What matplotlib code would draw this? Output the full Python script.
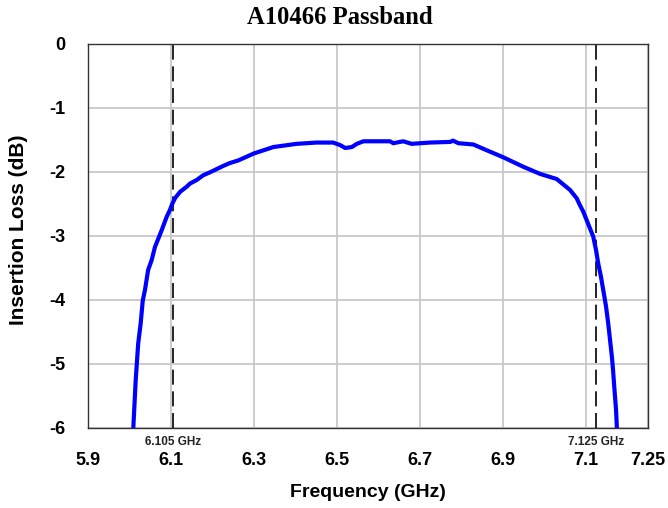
import matplotlib
matplotlib.use("Agg")
import matplotlib.pyplot as plt

freq_ghz = [6.0092, 6.015, 6.021, 6.027, 6.032, 6.0374, 6.045, 6.0535, 6.0615, 6.0696,
            6.0776, 6.0897, 6.0977, 6.103, 6.1097, 6.122, 6.1379, 6.146, 6.162, 6.178,
            6.194, 6.218, 6.226, 6.242, 6.262, 6.3, 6.347, 6.403, 6.451, 6.491,
            6.508, 6.52, 6.536, 6.548, 6.564, 6.628, 6.636, 6.66, 6.68, 6.724,
            6.773, 6.78, 6.793, 6.829, 6.861, 6.901, 6.95, 6.99, 7.03, 7.062,
            7.078, 7.086, 7.094, 7.102, 7.110, 7.118, 7.1247, 7.13, 7.1367, 7.142,
            7.1488, 7.154, 7.1585, 7.163, 7.1657, 7.168, 7.173, 7.175]
loss_db = [-6.0, -5.25, -4.68, -4.365, -4.01, -3.84, -3.53, -3.375, -3.17, -3.04,
           -2.91, -2.70, -2.59, -2.5, -2.41, -2.31, -2.23, -2.18, -2.125, -2.05,
           -2.005, -1.93, -1.905, -1.86, -1.82, -1.71, -1.61, -1.56, -1.54, -1.54,
           -1.58, -1.625, -1.61, -1.56, -1.52, -1.52, -1.55, -1.52, -1.56, -1.54,
           -1.53, -1.51, -1.55, -1.57, -1.66, -1.77, -1.92, -2.03, -2.11, -2.28,
           -2.41, -2.52, -2.62, -2.75, -2.88, -3.01, -3.22, -3.43, -3.64, -3.84,
           -4.10, -4.36, -4.625, -4.89, -5.09, -5.30, -5.72, -6.0]
markers_ghz = [6.105, 7.125]
marker_labels = ["6.105 GHz", "7.125 GHz"]
xticks = [5.9, 6.1, 6.3, 6.5, 6.7, 6.9, 7.1, 7.25]
xtick_labels = ["5.9", "6.1", "6.3", "6.5", "6.7", "6.9", "7.1", "7.25"]
yticks = [0, -1, -2, -3, -4, -5, -6]

plt.rcParams['font.family'] = ['Liberation Sans', 'DejaVu Sans']
plt.rcParams['axes.unicode_minus'] = False

fig = plt.figure(figsize=(6.68, 5.08), dpi=100)
ax = fig.add_axes([88/668, 1-428/508, 560/668, 384/508])

ax.plot(freq_ghz, loss_db, color='#0000FF', lw=3, zorder=3,
        solid_joinstyle='round', solid_capstyle='butt')
for m, lab in zip(markers_ghz, marker_labels):
    ax.axvline(m, color='black', lw=1.2, dashes=(9, 4), zorder=2)
    ax.text(m, -6.22, lab, ha='center', va='center', fontsize=8.5, fontweight='bold',
            color='#222222', clip_on=False)

ax.set_xlim(5.9, 7.25)
ax.set_ylim(-6, 0)
ax.set_xticks(xticks)
ax.set_xticklabels(xtick_labels)
ax.set_yticks(yticks)
ax.grid(True, color='#c8c8c8', lw=1.3, zorder=1)
ax.set_axisbelow(True)
ax.tick_params(length=0, labelsize=13)
ax.tick_params(axis='x', pad=17)
ax.tick_params(axis='y', pad=16)
for t in ax.get_xticklabels() + ax.get_yticklabels():
    t.set_fontweight('bold')
for s in ax.spines.values():
    s.set_color('#333333')
    s.set_linewidth(1.0)

ax.set_xlabel('Frequency (GHz)', fontsize=14, fontweight='bold', labelpad=11)
ax.set_ylabel('Insertion Loss (dB)', fontsize=15, fontweight='bold')
ax.yaxis.set_label_coords(-(88 - 28) / 560, (428 - 230) / 384)
fig.text(340/668, 1 - 17/508, 'A10466 Passband', ha='center', va='center',
         fontsize=17.7, fontweight='bold', family=['Liberation Serif', 'DejaVu Serif'])

fig.savefig('out.png', dpi=100)
